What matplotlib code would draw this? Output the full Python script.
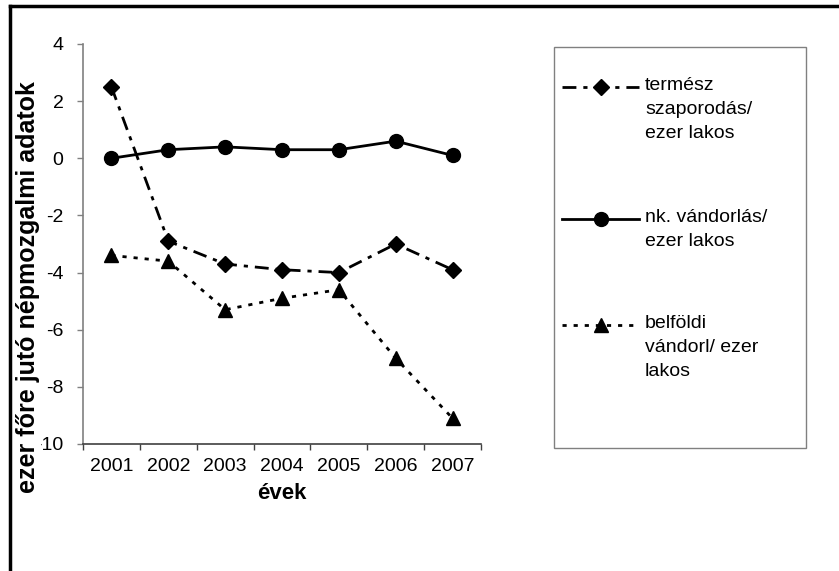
import matplotlib
matplotlib.use("Agg")
import matplotlib.pyplot as plt
from matplotlib.lines import Line2D
from matplotlib.patches import Rectangle

years = [2001, 2002, 2003, 2004, 2005, 2006, 2007]
termesz = [2.5, -2.9, -3.7, -3.9, -4.0, -3.0, -3.9]
nk_vandorlas = [0.0, 0.3, 0.4, 0.3, 0.3, 0.6, 0.1]
belfoldi = [-3.4, -3.6, -5.3, -4.9, -4.6, -7.0, -9.1]
series_labels = ["termész\nszaporodás/\nezer lakos",
                 "nk. vándorlás/\nezer lakos",
                 "belföldi\nvándorl/ ezer\nlakos"]
yticks = [4, 2, 0, -2, -4, -6, -8, -10]

plt.rcParams['font.family'] = ['Liberation Sans', 'DejaVu Sans']
W, H = 839, 571
fig = plt.figure(figsize=(W / 100, H / 100), dpi=100)
ax = fig.add_axes([83 / W, 1 - 444 / H, (481 - 83) / W, (444 - 44) / H])

styles = [
    dict(color='black', lw=2, linestyle=(0, (5, 2.5, 1.5, 2.5)), marker='D', markersize=8),
    dict(color='black', lw=2, linestyle='-', marker='o', markersize=10),
    dict(color='black', lw=2, linestyle=(0, (1.5, 2.5)), marker='^', markersize=10),
]
for vals, st in zip([termesz, nk_vandorlas, belfoldi], styles):
    ax.plot(years, vals, **st)

ax.set_xlim(years[0] - 0.5, years[-1] + 0.5)
ax.set_ylim(-10, 4)
ax.set_yticks(yticks)
ax.set_yticklabels([str(t) for t in yticks])
ax.set_xticks(years)
ax.set_xticklabels([str(y) for y in years])
ax.set_xticks([y - 0.5 for y in years] + [years[-1] + 0.5], minor=True)
ax.tick_params(axis='x', which='major', length=0, pad=10, labelsize=14)
ax.tick_params(axis='x', which='minor', length=4.5, width=1, color='#404040', direction='out')
ax.tick_params(axis='y', length=4, width=1, color='#808080', pad=10, labelsize=14)

for s in ['top', 'right']:
    ax.spines[s].set_visible(False)
ax.spines['left'].set_color('#808080')
ax.spines['bottom'].set_color('#404040')
ax.spines['left'].set_linewidth(1.2)
ax.spines['bottom'].set_linewidth(1.2)

ax.set_xlabel("évek", fontsize=16, fontweight='bold', labelpad=6)
ax.set_ylabel("ezer főre jutó népmozgalmi adatok", fontsize=18, fontweight='bold',
              bbox=dict(facecolor='white', edgecolor='none', pad=0.5))
ax.yaxis.set_label_coords(-(83 - 40) / (481 - 83), (444 - 287) / 400)

# legend box (drawn manually to match layout)
fig.patches.append(Rectangle((554 / W, 1 - 448 / H), (806 - 554) / W, (448 - 47) / H,
                             transform=fig.transFigure, fill=False,
                             edgecolor='#808080', lw=1))
entry_y = [87, 219, 325]
for lab, st, yy in zip(series_labels, styles, entry_y):
    yf = 1 - yy / H
    fig.lines.append(Line2D([562 / W, 601 / W, 639 / W], [yf, yf, yf],
                            transform=fig.transFigure,
                            color=st['color'], lw=st['lw'], linestyle=st['linestyle'],
                            marker=st['marker'], markersize=st['markersize'],
                            markevery=[1]))
    fig.text(645 / W, 1 - (yy - 10) / H, lab, fontsize=14, ha='left', va='top',
             linespacing=1.55)

# outer frame (left and top edges)
fig.lines.append(Line2D([10 / W, 10 / W], [0, 1 - 6 / H], transform=fig.transFigure,
                        color='black', lw=2.5))
fig.lines.append(Line2D([10 / W, 1], [1 - 6 / H, 1 - 6 / H], transform=fig.transFigure,
                        color='black', lw=2.5))

fig.savefig("out.png", dpi=100)
